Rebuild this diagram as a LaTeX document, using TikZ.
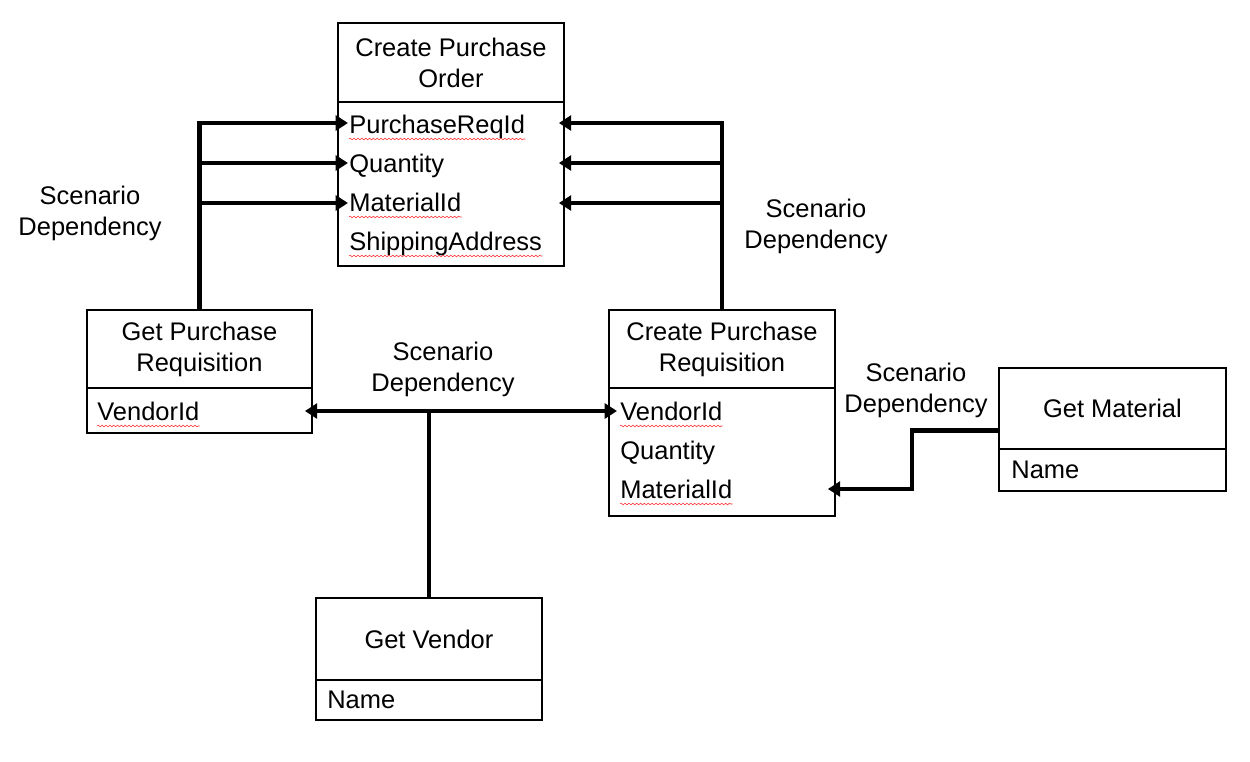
\documentclass[tikz,border=0pt]{standalone}
\usepackage{fontspec}
\setmainfont{Liberation Sans}
\usetikzlibrary{arrows.meta,calc,decorations.pathmorphing}
\begin{document}
\begin{tikzpicture}[x=0.02cm,y=-0.02cm,
  every node/.style={font=\fontsize{14.5}{17.6}\selectfont},
  boxpart/.style={draw, line width=1.1pt, inner sep=0pt, minimum width=4.52cm, anchor=north west, align=center},
  field/.style={inner sep=0pt, anchor=base west},
  lbl/.style={align=center, inner sep=0pt},
  tip/.style={Triangle[length=7pt,width=8.5pt]},
  conn/.style={line width=2.4pt, -{Triangle[length=7pt,width=8.5pt]}},
  connline/.style={line width=2.4pt},
  wavy/.style={red!85!white, line width=0.3pt, decorate, decoration={snake, segment length=2.2pt, amplitude=0.5pt}}]
\useasboundingbox (0,0) rectangle (1250,761);
\fill[white] (0,0) rectangle (1250,761);

% Create Purchase Order
\node[boxpart, minimum height=1.58cm] (cpoT) at (337,22) {Create Purchase\\Order};
\node[boxpart, minimum height=3.28cm] (cpoB) at (337,101) {};
\node[field] (cpoPR) at (349,133) {PurchaseReqId};
\node[field] (cpoQ) at (349,172) {Quantity};
\node[field] (cpoM) at (349,211) {MaterialId};
\node[field] (cpoS) at (349,250) {ShippingAddress};

% Get Purchase Requisition
\node[boxpart, minimum width=4.5cm, minimum height=1.56cm] (gprT) at (86,309) {Get Purchase\\Requisition};
\node[boxpart, minimum width=4.5cm, minimum height=0.9cm] (gprB) at (86,387) {};
\node[field] (gprV) at (97,420) {VendorId};

% Create Purchase Requisition
\node[boxpart, minimum height=1.56cm] (cprT) at (608,309) {Create Purchase\\Requisition};
\node[boxpart, minimum height=2.56cm] (cprB) at (608,387) {};
\node[field] (cprV) at (620,420) {VendorId};
\node[field] (cprQ) at (620,459) {Quantity};
\node[field] (cprM) at (620,498) {MaterialId};

% Get Material
\node[boxpart, minimum width=4.54cm, minimum height=1.62cm] (gmT) at (998,367) {Get Material};
\node[boxpart, minimum width=4.54cm, minimum height=0.84cm] (gmB) at (998,448) {};
\node[field] (gmN) at (1011,478) {Name};

% Get Vendor
\node[boxpart, minimum height=1.64cm] (gvT) at (315,597) {Get Vendor};
\node[boxpart, minimum height=0.8cm] (gvB) at (315,679) {};
\node[field] (gvN) at (327,708) {Name};

% spell-check underlines
\foreach \n in {cpoPR,cpoM,cpoS,gprV,cprV,cprM}
  \draw[wavy] ($(\n.base west)+(0,6)$) -- ($(\n.base east)+(0,6)$);

% labels
\node[lbl] (l1) at (90,213) {Scenario\\Dependency};
\node[lbl] (l2) at (816,226) {Scenario\\Dependency};
\node[lbl] (l3) at (443,369) {Scenario\\Dependency};
\node[lbl] (l4) at (916,390) {Scenario\\Dependency};

% left connectors
\draw[conn] (gprT.north) |- ($(cpoPR.base west)+(-1,-10)$);
\draw[conn] (gprT.north) |- ($(cpoQ.base west)+(-1,-9)$);
\draw[conn] (gprT.north) |- ($(cpoM.base west)+(-1,-8)$);

% right connectors
\draw[conn] (cprT.north) |- ($(cpoPR.base west -| cpoB.east)+(-6,-10)$);
\draw[conn] (cprT.north) |- ($(cpoQ.base west -| cpoB.east)+(-6,-9)$);
\draw[conn] (cprT.north) |- ($(cpoM.base west -| cpoB.east)+(-6,-8)$);

% vendor connector
\draw[line width=2.4pt, {Triangle[length=7pt,width=8.5pt]}-{Triangle[length=7pt,width=8.5pt]}]
  ($(gprV.base west -| gprB.east)+(-8,-9)$) -- ($(cprV.base west)+(-3,-9)$);
\draw[connline] (gvT.north) -- ($(gvT.north |- gprV.base west)+(0,-9)$);

% material connector
\draw[conn] ($(gmT.west)+(0,22)$) -- ++(-86,0) |- ($(cprM.base west -| cprB.east)+(-8,-9)$);
\end{tikzpicture}
\end{document}
